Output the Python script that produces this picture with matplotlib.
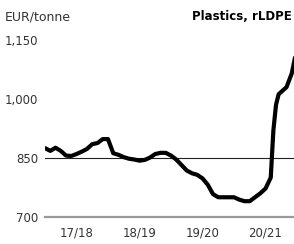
import matplotlib
matplotlib.use("Agg")
import matplotlib.pyplot as plt

# months since start of 17/18 season, and price in EUR/tonne
months = [0, 1, 2, 3, 4, 5, 6, 7, 8, 9, 10, 11, 12, 13, 14, 15, 16, 17, 18,
          19, 20, 21, 22, 23, 24, 25, 26, 27, 28, 29, 30, 31, 32, 33, 34, 35,
          36, 37, 38, 39, 40, 41, 42, 43, 43.5, 44, 44.5, 45, 46, 47, 48]
prices = [875, 868, 876, 868, 856, 855, 860, 866, 873, 885, 888, 898, 898,
          862, 858, 852, 848, 846, 843, 845, 851, 860, 863, 863, 856, 846,
          832, 818, 811, 807, 798, 782, 758, 750, 750, 750, 750, 744, 740,
          740, 750, 760, 772, 800, 920, 985, 1012, 1018, 1030, 1065, 1130]

season_pos = [6, 18, 30, 42]
season_labels = ["17/18", "18/19", "19/20", "20/21"]
y_ticks = [700, 850, 1000, 1150]
y_labels = ["700", "850", "1,000", "1,150"]

plt.rcParams['font.family'] = ['DejaVu Sans']

fig = plt.figure(figsize=(2.94, 2.44), dpi=100)
ax = fig.add_axes([45 / 294, 0.111, 252 / 294, 0.725])

ax.axhline(850, color='#222222', lw=0.8, zorder=1)
ax.axhline(700, color='#9a9a9a', lw=1.6, zorder=1, clip_on=False)
ax.plot(months, prices, color='black', lw=3.0, solid_joinstyle='round',
        solid_capstyle='round', zorder=3)

ax.set_xlim(0, 48)
ax.set_ylim(700, 1150)
ax.set_yticks(y_ticks)
ax.set_yticklabels(y_labels)
ax.set_xticks(season_pos)
ax.set_xticklabels(season_labels)
ax.tick_params(length=0, labelsize=8.5, colors='#333333')
ax.tick_params(axis='y', pad=5)
ax.tick_params(axis='x', pad=7)
for s in ax.spines.values():
    s.set_visible(False)

fig.text(5 / 294, 1 - 17 / 244, "EUR/tonne", fontsize=9, color='#333333',
         ha='left', va='center')
fig.text(292 / 294, 1 - 17 / 244, "Plastics, rLDPE", fontsize=8.5,
         fontweight='bold', color='black', ha='right', va='center')

fig.savefig("out.png", dpi=100)
